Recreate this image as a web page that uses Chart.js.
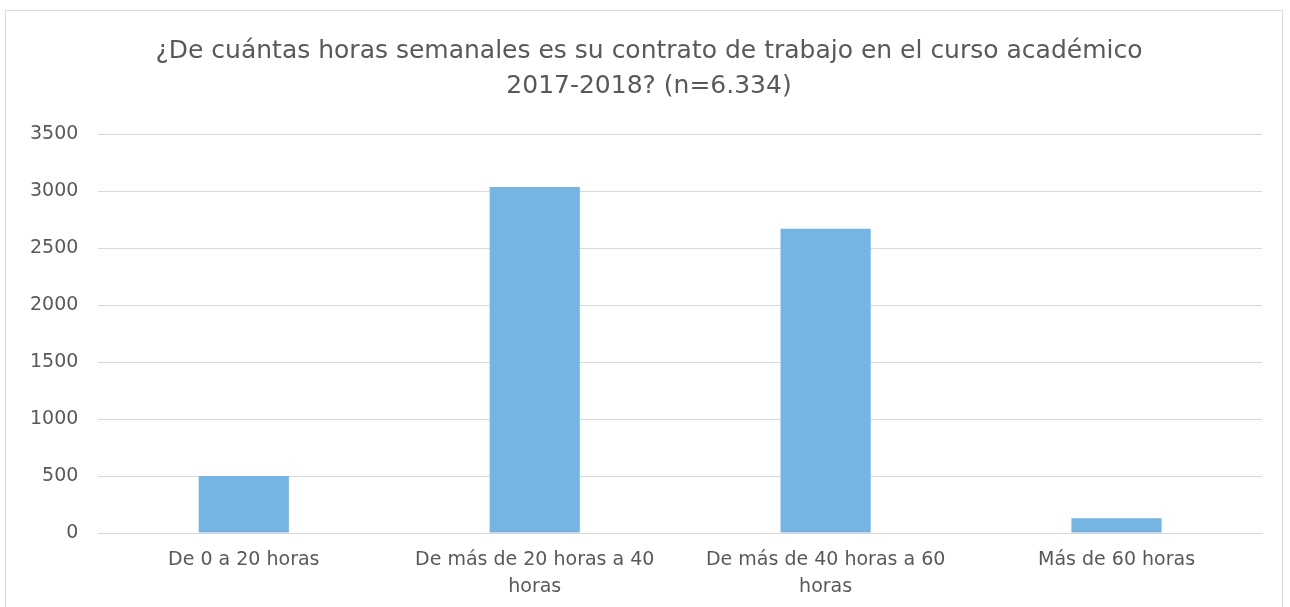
<!DOCTYPE html>
<html>
<head>
<meta charset="utf-8">
<script src="https://cdn.jsdelivr.net/npm/chart.js@4"></script>
<style>
  html, body { margin: 0; padding: 0; background: #fff; overflow: hidden; }
  #frame {
    position: absolute; left: 5px; top: 10px;
    width: 1278px; height: 620px;
    border: 1px solid #d9d9d9; box-sizing: border-box;
  }
  #wrap { position: absolute; left: 0; top: 0; width: 1276px; height: 604px; }
</style>
</head>
<body>
<div id="frame"><div id="wrap"><canvas id="chart"></canvas></div></div>
<script>
'use strict';

const TITLE = [
  '¿De cuántas horas semanales es su contrato de trabajo en el curso académico',
  '2017-2018? (n=6.334)',
];
const CATEGORIES = [
  ['De 0 a 20 horas'],
  ['De más de 20 horas a 40', 'horas'],
  ['De más de 40 horas a 60', 'horas'],
  ['Más de 60 horas'],
];
const VALUES = [500, 3035, 2670, 129];
const Y_MIN = 0;
const Y_MAX = 3500;
const Y_STEP = 500;

const FONT = "'DejaVu Sans', sans-serif";
const TEXT = '#595959';
const GRID = '#d9d9d9';

// title is drawn by hand so it can sit centred on the frame, not on the padded box
const centeredTitle = {
  id: 'centeredTitle',
  afterDraw(chart) {
    const ctx = chart.ctx;
    ctx.save();
    ctx.fillStyle = TEXT;
    ctx.font = `25px ${FONT}`;
    ctx.textAlign = 'center';
    ctx.textBaseline = 'middle';
    TITLE.forEach((line, i) => {
      ctx.fillText(line, chart.width / 2 + 5, 40 + i * 35);
    });
    ctx.restore();
  },
};

new Chart(document.getElementById('chart'), {
  type: 'bar',
  data: {
    labels: CATEGORIES,
    datasets: [
      {
        data: VALUES,
        backgroundColor: '#75B5E3',
        borderWidth: 0,
        categoryPercentage: 1,
        barPercentage: 0.31,
      },
    ],
  },
  options: {
    responsive: true,
    maintainAspectRatio: false,
    animation: false,
    layout: { padding: { left: 4, right: 20, top: 123, bottom: 0 } },
    plugins: {
      legend: { display: false },
      tooltip: { enabled: false },
      title: { display: false },
    },
    scales: {
      y: {
        min: Y_MIN,
        max: Y_MAX,
        ticks: {
          stepSize: Y_STEP,
          color: TEXT,
          font: { family: FONT, size: 19 },
          padding: 20,
          callback: (v) => String(v),
        },
        grid: { color: GRID, lineWidth: 1, drawTicks: false },
        border: { display: false },
      },
      x: {
        ticks: {
          color: TEXT,
          font: { family: FONT, size: 19, lineHeight: 1.42 },
          padding: 14,
          maxRotation: 0,
        },
        grid: { display: false, drawTicks: false },
        border: { color: GRID },
      },
    },
  },
  plugins: [centeredTitle],
});
</script>
</body>
</html>
